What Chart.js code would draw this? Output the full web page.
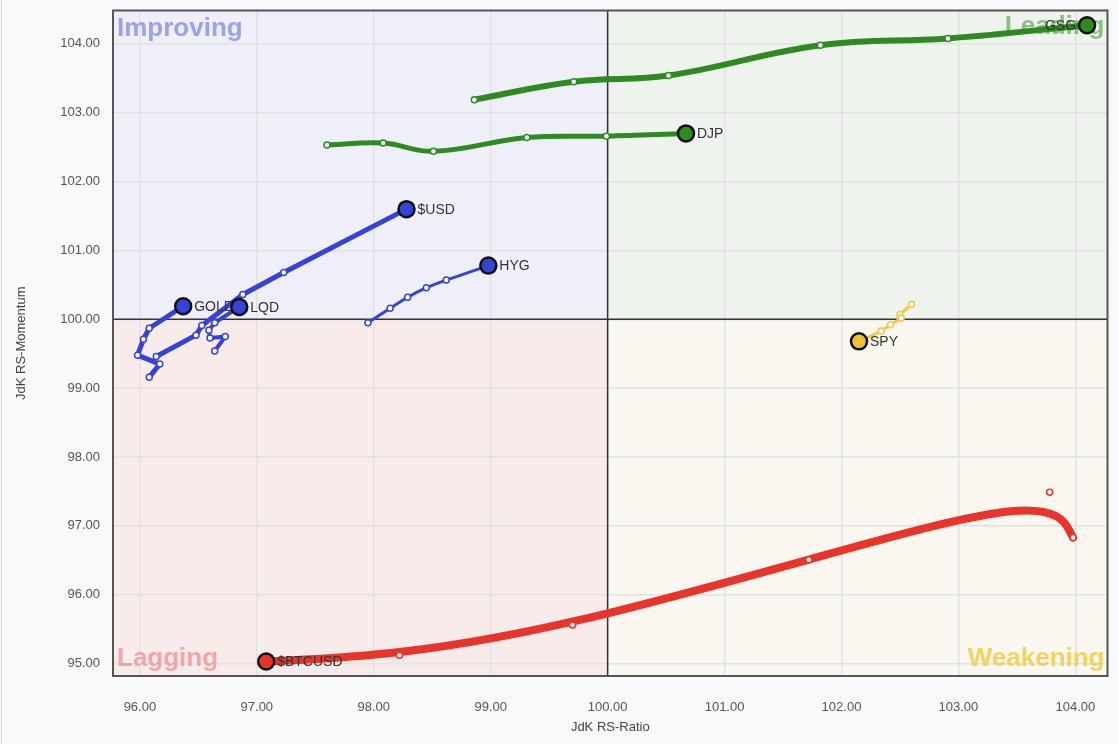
<!DOCTYPE html>
<html>
<head>
<meta charset="utf-8">
<script src="https://cdn.jsdelivr.net/npm/chart.js@4.4.1/dist/chart.umd.min.js"></script>
<style>
  html, body { margin: 0; padding: 0; background: #f8f9fa; }
  #wrap { position: relative; width: 1118px; height: 744px; }
  #wrap:before { content: ""; position: absolute; left: 1px; top: 0; bottom: 0; width: 1px; background: #d8d8d8; }
  canvas { display: block; }
</style>
</head>
<body>
<div id="wrap"><canvas id="c" width="1118" height="744"></canvas></div>
<script>
// ---- data ----
const xTicks = [96, 97, 98, 99, 100, 101, 102, 103, 104];
const yTicks = [95, 96, 97, 98, 99, 100, 101, 102, 103, 104];
const names = ['GSG', 'DJP', '$USD', 'HYG', 'GOLD', 'LQD', 'SPY', '$BTCUSD'];

const GSG_ratio = [98.86, 99.71, 100.52, 101.82, 102.91, 104.10];
const GSG_mom   = [103.19, 103.45, 103.54, 103.98, 104.08, 104.27];
const DJP_ratio = [97.60, 98.08, 98.51, 99.31, 99.99, 100.67];
const DJP_mom   = [102.53, 102.56, 102.44, 102.64, 102.66, 102.70];
const USD_ratio = [96.14, 96.48, 96.53, 96.88, 97.23, 98.28];
const USD_mom   = [99.46, 99.77, 99.91, 100.36, 100.68, 101.60];
const HYG_ratio = [97.95, 98.14, 98.29, 98.45, 98.62, 98.98];
const HYG_mom   = [99.95, 100.16, 100.32, 100.46, 100.57, 100.78];
const GOLD_ratio = [96.08, 96.17, 95.98, 96.03, 96.08, 96.37];
const GOLD_mom   = [99.16, 99.35, 99.48, 99.71, 99.87, 100.19];
const LQD_ratio = [96.64, 96.73, 96.60, 96.59, 96.64, 96.85];
const LQD_mom   = [99.54, 99.75, 99.73, 99.84, 99.95, 100.18];
const SPY_ratio = [102.60, 102.50, 102.51, 102.42, 102.34, 102.15];
const SPY_mom   = [100.22, 100.07, 100.02, 99.92, 99.83, 99.68];
const BTC_ratio = [103.98, 103.78, 101.72, 99.70, 98.22, 97.08];
const BTC_mom   = [96.83, 97.49, 96.51, 95.56, 95.12, 95.03];

const ratios = [GSG_ratio, DJP_ratio, USD_ratio, HYG_ratio, GOLD_ratio, LQD_ratio, SPY_ratio, BTC_ratio];
const moms   = [GSG_mom, DJP_mom, USD_mom, HYG_mom, GOLD_mom, LQD_mom, SPY_mom, BTC_mom];

// ---- styles ----
const colors     = ['#2f8a22', '#2f8a22', '#3543d8', '#3543d8', '#3543d8', '#3543d8', '#f2c744', '#e8342a'];
const headFills  = ['#2f8a22', '#2f8a22', '#3543d8', '#3543d8', '#3543d8', '#3543d8', '#f0c232', '#e8342a'];
const lineWidths = [6, 5, 5, 3, 5, 4, 3, 8];
const tensions   = [0.4, 0.4, 0, 0.2, 0, 0, 0, 0];
const labelLeft  = [true, false, false, false, false, false, false, false];
const smoothB    = [false, false, false, false, false, false, false, true];

const datasets = names.map((n, i) => {
  const len = ratios[i].length;
  const data = ratios[i].map((x, k) => ({ x: x, y: moms[i][k] }));
  return {
    label: n,
    data: data,
    showLine: !smoothB[i],
    borderColor: colors[i],
    borderWidth: lineWidths[i],
    tension: tensions[i],
    borderCapStyle: 'round',
    borderJoinStyle: 'round',
    order: names.length - i,
    pointRadius: data.map((_, k) => k === len - 1 ? 8 : 3),
    pointBackgroundColor: data.map((_, k) => k === len - 1 ? headFills[i] : '#ffffff'),
    pointBorderColor: data.map((_, k) => k === len - 1 ? '#111111' : colors[i]),
    pointBorderWidth: data.map((_, k) => k === len - 1 ? 2.5 : 1.5)
  };
});

const zeroPad = () => ({ left: 0, right: 0, top: 0, bottom: 0 });

const quadPlugin = {
  id: 'quads',
  beforeDraw(chart) {
    const { ctx, chartArea: a, scales: { x, y } } = chart;
    const cx = x.getPixelForValue(100), cy = y.getPixelForValue(100);
    ctx.save();
    ctx.fillStyle = '#eeeff8'; ctx.fillRect(a.left, a.top, cx - a.left, cy - a.top);
    ctx.fillStyle = '#eef3ee'; ctx.fillRect(cx, a.top, a.right - cx, cy - a.top);
    ctx.fillStyle = '#f7ecea'; ctx.fillRect(a.left, cy, cx - a.left, a.bottom - cy);
    ctx.fillStyle = '#f9f7ef'; ctx.fillRect(cx, cy, a.right - cx, a.bottom - cy);
    ctx.restore();
  },
  beforeDatasetsDraw(chart) {
    const { ctx, chartArea: a, scales: { x, y } } = chart;
    const cx = x.getPixelForValue(100), cy = y.getPixelForValue(100);
    ctx.save();
    ctx.beginPath(); ctx.rect(a.left, a.top, a.right - a.left, a.bottom - a.top); ctx.clip();
    ctx.font = 'bold 26px "Liberation Sans", Arial, sans-serif';
    ctx.textBaseline = 'alphabetic';
    ctx.fillStyle = 'rgba(120,128,228,0.7)'; ctx.textAlign = 'left';
    ctx.fillText('Improving', a.left + 4, a.top + 25);
    ctx.fillStyle = 'rgba(110,180,100,0.8)'; ctx.textAlign = 'right';
    ctx.fillText('Leading', a.right - 3, a.top + 23);
    ctx.fillStyle = 'rgba(238,150,150,0.8)'; ctx.textAlign = 'left';
    ctx.fillText('Lagging', a.left + 4, a.bottom - 10);
    ctx.fillStyle = 'rgba(240,206,70,0.85)'; ctx.textAlign = 'right';
    ctx.fillText('Weakening', a.right - 3, a.bottom - 10);
    ctx.restore();
    ctx.save();
    ctx.strokeStyle = '#333'; ctx.lineWidth = 1.5;
    ctx.beginPath();
    ctx.moveTo(cx, a.top); ctx.lineTo(cx, a.bottom);
    ctx.moveTo(a.left, cy); ctx.lineTo(a.right, cy);
    ctx.stroke();
    ctx.strokeStyle = '#555'; ctx.lineWidth = 2;
    ctx.strokeRect(a.left, a.top, a.right - a.left, a.bottom - a.top);
    ctx.restore();
  },
  beforeDatasetDraw(chart, args) {
    const i = args.index;
    if (!smoothB[i]) return;
    const pts = args.meta.data.map(p => [p.x, p.y]);
    const q = [pts[0], pts[0]].concat(pts, [pts[pts.length - 1], pts[pts.length - 1]]);
    const { ctx } = chart;
    ctx.save();
    ctx.strokeStyle = colors[i];
    ctx.lineWidth = lineWidths[i];
    ctx.lineCap = 'round'; ctx.lineJoin = 'round';
    ctx.beginPath();
    for (let k = 0; k + 3 < q.length; k++) {
      const [a0, a1, a2, a3] = [q[k], q[k + 1], q[k + 2], q[k + 3]];
      const b0 = [(a0[0] + 4 * a1[0] + a2[0]) / 6, (a0[1] + 4 * a1[1] + a2[1]) / 6];
      const b1 = [(4 * a1[0] + 2 * a2[0]) / 6, (4 * a1[1] + 2 * a2[1]) / 6];
      const b2 = [(2 * a1[0] + 4 * a2[0]) / 6, (2 * a1[1] + 4 * a2[1]) / 6];
      const b3 = [(a1[0] + 4 * a2[0] + a3[0]) / 6, (a1[1] + 4 * a2[1] + a3[1]) / 6];
      if (k === 0) ctx.moveTo(b0[0], b0[1]);
      ctx.bezierCurveTo(b1[0], b1[1], b2[0], b2[1], b3[0], b3[1]);
    }
    ctx.stroke();
    ctx.restore();
  },
  afterDatasetDraw(chart, args) {
    const i = args.index;
    const pts = args.meta.data;
    const head = pts[pts.length - 1];
    const { ctx } = chart;
    ctx.save();
    ctx.font = '14px "Liberation Sans", Arial, sans-serif';
    ctx.fillStyle = '#333';
    ctx.textBaseline = 'middle';
    if (labelLeft[i]) { ctx.textAlign = 'right'; ctx.fillText(names[i], head.x - 11, head.y + 1); }
    else { ctx.textAlign = 'left'; ctx.fillText(names[i], head.x + 11, head.y + 1); }
    ctx.restore();
  }
};

new Chart(document.getElementById('c'), {
  type: 'scatter',
  data: { datasets: datasets },
  options: {
    responsive: false,
    animation: false,
    devicePixelRatio: 1,
    layout: { padding: { top: 10, right: 7, bottom: 0, left: 0 } },
    plugins: { legend: { display: false }, tooltip: { enabled: false } },
    scales: {
      x: {
        type: 'linear', min: 95.77, max: 104.275,
        afterBuildTicks: s => { s.ticks = xTicks.map(v => ({ value: v })); },
        afterFit: s => { s.height = 68; s.paddingLeft = 0; s.paddingRight = 0; s.getPadding = zeroPad; },
        ticks: { callback: v => Number(v).toFixed(2), color: '#555', padding: 24, font: { size: 13, family: '"Liberation Sans", Arial, sans-serif' }, maxRotation: 0 },
        grid: { color: '#e2e2e2', lineWidth: 1.5, drawTicks: false },
        border: { display: false },
        title: { display: true, text: 'JdK RS-Ratio', color: '#444', font: { size: 13, family: '"Liberation Sans", Arial, sans-serif' }, padding: { top: 0, bottom: 9 } }
      },
      y: {
        type: 'linear', min: 94.82, max: 104.485,
        afterBuildTicks: s => { s.ticks = yTicks.map(v => ({ value: v })); },
        afterFit: s => { s.width = 113; s.paddingTop = 0; s.paddingBottom = 0; s.getPadding = zeroPad; },
        ticks: { callback: v => Number(v).toFixed(2), color: '#555', padding: 13, font: { size: 13, family: '"Liberation Sans", Arial, sans-serif' } },
        grid: { color: '#e2e2e2', lineWidth: 1.5, drawTicks: false },
        border: { display: false },
        title: { display: true, text: 'JdK RS-Momentum', color: '#444', font: { size: 13, family: '"Liberation Sans", Arial, sans-serif' }, padding: { top: 14, bottom: 0 } }
      }
    }
  },
  plugins: [quadPlugin]
});
</script>
</body>
</html>
